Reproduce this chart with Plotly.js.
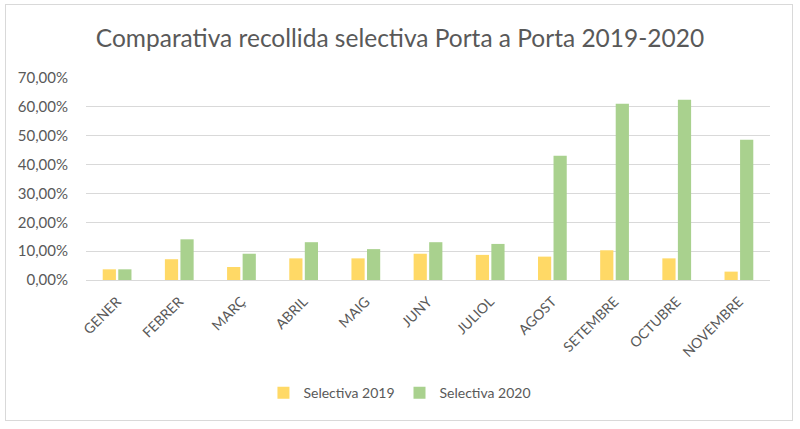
<!DOCTYPE html>
<html>
<head>
<meta charset="utf-8">
<script src="https://cdn.plot.ly/plotly-3.0.1.min.js"></script>
<style>
  body { margin: 0; background: #fff; }
  #wrap { position: relative; width: 800px; height: 429px; }
  #chart { width: 800px; height: 429px; }
  #frame { position: absolute; left: 5px; top: 4px; width: 786px; height: 415px;
           border: 1px solid #d9d9d9; pointer-events: none; }
</style>
</head>
<body>
<div id="wrap">
  <div id="chart"></div>
  <div id="frame"></div>
</div>
<script>
// mesos
var months = ["GENER", "FEBRER", "MARÇ", "ABRIL", "MAIG", "JUNY", "JULIOL",
              "AGOST", "SETEMBRE", "OCTUBRE", "NOVEMBRE"];

// percentatges llegits del gràfic
var sel2019 = [3.7, 7.2, 4.5, 7.5, 7.5, 9.1, 8.7, 8.1, 10.3, 7.5, 2.9];
var sel2020 = [3.7, 14.1, 9.1, 13.1, 10.7, 13.1, 12.5, 43.1, 61.1, 62.5, 48.6];

var yTicks = [0, 10, 20, 30, 40, 50, 60, 70];
var yTickText = yTicks.map(function(v) { return v.toFixed(2).replace(".", ",") + "%"; });

var fontFam = "Lato, 'Open Sans', sans-serif";

var data = [{
    type: "bar",
    name: "Selectiva 2019",
    x: months,
    y: sel2019,
    marker: {color: "#FFD966"}
},
{
    type: "bar",
    name: "Selectiva 2020",
    x: months,
    y: sel2020,
    marker: {color: "#A9D18E"}
}];

var layout = {
    width: 800,
    height: 429,
    margin: {l: 86, r: 30, t: 78, b: 149},
    paper_bgcolor: "#fff",
    plot_bgcolor: "#fff",
    font: {family: fontFam, color: "#595959", size: 13},
    title: {
        text: "Comparativa recollida selectiva Porta a Porta 2019-2020",
        font: {family: fontFam, size: 24.5, color: "#595959"},
        x: 0.5, xanchor: "center",
        y: 0.91, yanchor: "middle"
    },
    barmode: "group",
    bargap: 0.5,
    bargroupgap: 0.15,
    xaxis: {
        tickangle: -45,
        showgrid: false,
        showline: false,
        ticks: "outside",
        ticklen: 7,
        tickcolor: "rgba(0,0,0,0)",
        tickfont: {size: 14, color: "#595959"}
    },
    yaxis: {
        range: [0, 70],
        tickmode: "array",
        tickvals: yTicks,
        ticktext: yTickText,
        gridcolor: "#d9d9d9",
        zeroline: true,
        zerolinecolor: "#d9d9d9",
        showline: false,
        ticks: "outside",
        ticklen: 14,
        tickcolor: "rgba(0,0,0,0)",
        tickfont: {size: 15, color: "#595959"}
    },
    legend: {
        orientation: "h",
        x: 0.459, xanchor: "center",
        y: -0.56, yanchor: "middle",
        font: {size: 14, color: "#595959"},
        itemwidth: 30
    },
    showlegend: true
};

Plotly.newPlot("chart", data, layout, {displayModeBar: false, staticPlot: true});
</script>
</body>
</html>
